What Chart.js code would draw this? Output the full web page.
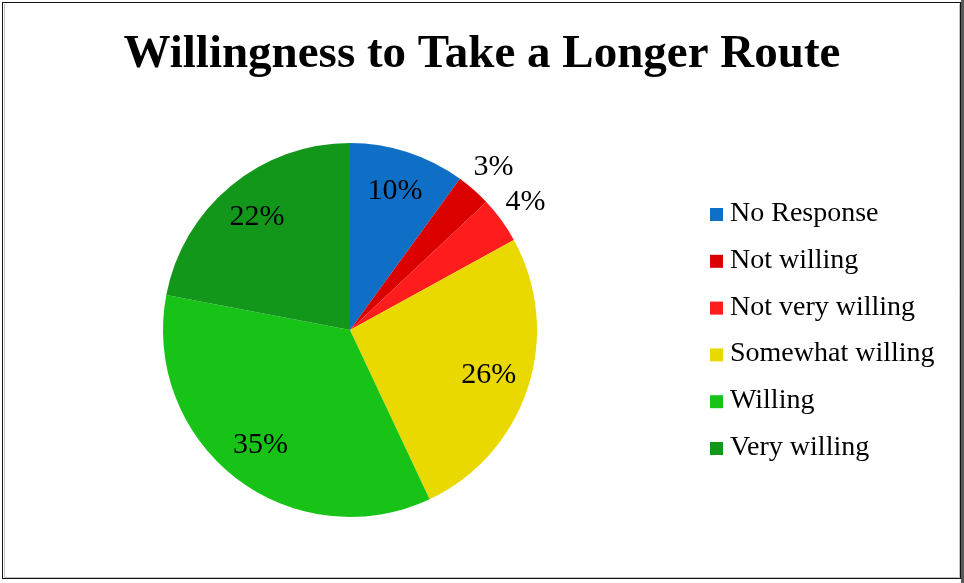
<!DOCTYPE html>
<html>
<head>
<meta charset="utf-8">
<title>Willingness to Take a Longer Route</title>
<script src="https://cdn.jsdelivr.net/npm/chart.js@4.4.1/dist/chart.umd.min.js"></script>
<style>
  html, body { margin: 0; padding: 0; background: #fff; }
  #wrap { width: 964px; height: 583px; }
</style>
</head>
<body>
<div id="wrap"><canvas id="routeChart" width="964" height="583"></canvas></div>
<script>
var categories = ['No Response', 'Not willing', 'Not very willing', 'Somewhat willing', 'Willing', 'Very willing'];
var percentages = [10, 3, 4, 26, 35, 22];
var sliceColors = ['#0F6FC6', '#DA0000', '#FF1C1C', '#EAD900', '#17C317', '#12971A'];
// slices too thin to hold their label get it placed outside the rim
var outsideLabels = [false, true, true, false, false, false];

var serif = "'Liberation Serif', 'Times New Roman', serif";

// white page with the framed border
var framePlugin = {
  id: 'frame',
  beforeDraw: function (chart) {
    var ctx = chart.ctx;
    ctx.save();
    ctx.fillStyle = '#ffffff';
    ctx.fillRect(0, 0, chart.width, chart.height);
    ctx.fillStyle = '#5a5a5a';
    ctx.fillRect(961, 0, 3, chart.height);
    ctx.strokeStyle = '#c4c4c4';
    ctx.lineWidth = 1;
    ctx.beginPath();
    ctx.moveTo(4.5, 4); ctx.lineTo(4.5, 577);
    ctx.moveTo(959.5, 4); ctx.lineTo(959.5, 577);
    ctx.moveTo(4, 577.5); ctx.lineTo(960, 577.5);
    ctx.stroke();
    ctx.strokeStyle = '#111111';
    ctx.strokeRect(2.5, 2.5, 958, 576);
    ctx.restore();
  }
};

// percentage labels on (or beside) each slice
var sliceLabels = {
  id: 'sliceLabels',
  afterDatasetsDraw: function (chart) {
    var ctx = chart.ctx;
    var meta = chart.getDatasetMeta(0);
    ctx.save();
    ctx.font = '30px ' + serif;
    ctx.fillStyle = '#000000';
    ctx.textAlign = 'center';
    ctx.textBaseline = 'middle';
    meta.data.forEach(function (arc, i) {
      var p = arc.getProps(['x', 'y', 'startAngle', 'endAngle', 'outerRadius'], true);
      var mid = (p.startAngle + p.endAngle) / 2;
      var r = outsideLabels[i] ? p.outerRadius * 1.16 : p.outerRadius * 0.78;
      var x = p.x + Math.cos(mid) * r;
      var y = p.y + Math.sin(mid) * r;
      ctx.fillText(percentages[i] + '%', x, y);
    });
    ctx.restore();
  }
};

// title and legend drawn in serif type
var titleAndLegend = {
  id: 'titleAndLegend',
  afterDraw: function (chart) {
    var ctx = chart.ctx;
    ctx.save();
    ctx.fillStyle = '#000000';
    ctx.font = 'bold 47px ' + serif;
    ctx.textAlign = 'center';
    ctx.textBaseline = 'alphabetic';
    ctx.fillText('Willingness to Take a Longer Route', 482, 67);

    ctx.font = '28px ' + serif;
    ctx.textAlign = 'left';
    categories.forEach(function (name, i) {
      var base = 221 + i * 46.8;
      ctx.fillStyle = sliceColors[i];
      ctx.fillRect(710, base - 13, 13, 13);
      ctx.fillStyle = '#000000';
      ctx.fillText(name, 730, base);
    });
    ctx.restore();
  }
};

var chartElement = document.getElementById('routeChart');
var routeChart = new Chart(chartElement, {
  type: 'pie',
  data: {
    labels: categories,
    datasets: [
      {
        data: percentages,
        backgroundColor: sliceColors,
        borderWidth: 0,
        hoverOffset: 0
      }
    ]
  },
  options: {
    responsive: false,
    animation: false,
    radius: 187,
    layout: {
      padding: { left: 163, top: 143, right: 427, bottom: 66 }
    },
    plugins: {
      legend: { display: false },
      title: { display: false },
      tooltip: { enabled: false }
    }
  },
  plugins: [framePlugin, sliceLabels, titleAndLegend]
});
</script>
</body>
</html>
